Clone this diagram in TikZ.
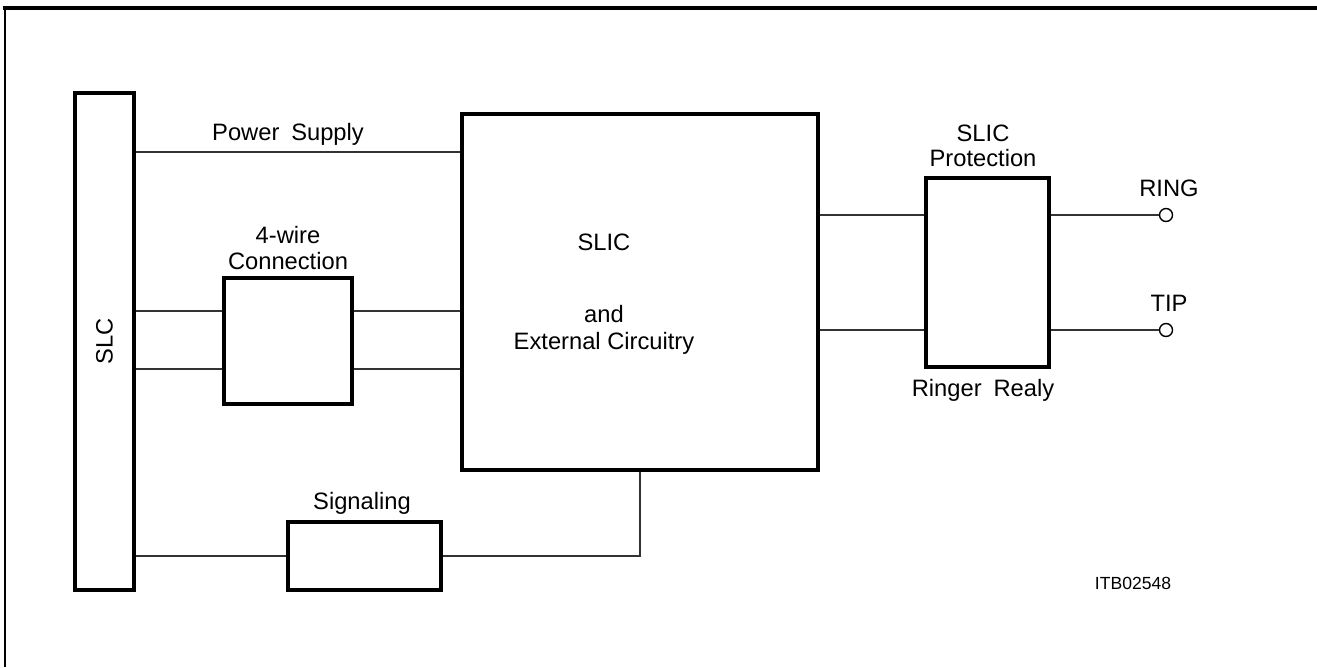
\documentclass[tikz,border=0pt]{standalone}
\usepackage{fontspec}
\usepackage{graphicx}
\setmainfont{Liberation Sans}
\begin{document}
\begin{tikzpicture}[
    x=0.02cm,
    y=-0.02cm,
    every node/.style={font=\fontsize{13.5}{15}\selectfont},
    box/.style={draw, line width=2pt, inner sep=0pt},
    wire/.style={line width=0.8pt, black!80},
    lbl/.style={anchor=base, inner sep=0pt}
  ]

  % --- 0. page and frame ---
  \useasboundingbox (0,0) rectangle (1317,667);
  \draw[line width=1.8pt] (3,8) -- (1317,8);
  \draw[line width=1.2pt] (5,8) -- (5,667);

  % --- 1. blocks ---
  \node[box, minimum width=1.18cm, minimum height=9.94cm] (slc) at (104.5,341.5) {\rotatebox{90}{SLC}};
  \node[box, minimum width=2.56cm, minimum height=2.52cm] (fourwire) at (288,341) {};
  \node[box, minimum width=7.12cm, minimum height=7.12cm] (slic) at (640,292) {};
  \node[box, minimum width=3.06cm, minimum height=1.36cm] (signal) at (364.5,556) {};
  \node[box, minimum width=2.46cm, minimum height=3.78cm] (prot) at (987.5,272.5) {};

  % terminals
  \node[draw, circle, line width=0.8pt, minimum size=0.26cm, inner sep=0pt] (ring) at (1166,215) {};
  \node[draw, circle, line width=0.8pt, minimum size=0.26cm, inner sep=0pt] (tip) at (1166,330) {};

  % --- 2. texts ---
  \node[lbl] (pwrlbl) at (288,140) {Power\enspace Supply};
  \node[lbl] (fourlbl) at (288,243) {4-wire};
  \node[lbl] (connlbl) at (288,269) {Connection};
  \node[lbl] (sliclbl) at (604,250) {SLIC};
  \node[lbl] (andlbl) at (604,322) {and};
  \node[lbl] (extlbl) at (604,349) {External Circuitry};
  \node[lbl] (siglbl) at (362,509) {Signaling};
  \node[lbl] (protlbl) at (983,141.5) {SLIC};
  \node[lbl] (protlbl2) at (983,166.5) {Protection};
  \node[lbl] (ringerlbl) at (983,396.5) {Ringer\enspace Realy};
  \node[lbl] (ringlbl) at (1169,196.5) {RING};
  \node[lbl] (tiplbl) at (1169,311.5) {TIP};
  \node[lbl, font=\fontsize{10}{11}\selectfont] (codelbl) at (1133,589) {ITB02548};

  % --- 3. wires ---
  % power supply
  \coordinate (pw) at (0,152);
  \draw[wire] (slc.east |- pw) -- (slic.west |- pw);

  % 4-wire pair
  \coordinate (w1) at (0,311);
  \coordinate (w2) at (0,369);
  \draw[wire] (slc.east |- w1) -- (fourwire.west |- w1);
  \draw[wire] (slc.east |- w2) -- (fourwire.west |- w2);
  \draw[wire] (fourwire.east |- w1) -- (slic.west |- w1);
  \draw[wire] (fourwire.east |- w2) -- (slic.west |- w2);

  % ring and tip
  \draw[wire] (slic.east |- ring) -- (prot.west |- ring);
  \draw[wire] (slic.east |- tip) -- (prot.west |- tip);
  \draw[wire] (prot.east |- ring) -- (ring);
  \draw[wire] (prot.east |- tip) -- (tip);

  % signaling
  \draw[wire] (slc.east |- signal.west) -- (signal.west);
  \draw[wire] (signal.east) -- (signal.east -| slic.south) -- (slic.south);

\end{tikzpicture}
\end{document}
